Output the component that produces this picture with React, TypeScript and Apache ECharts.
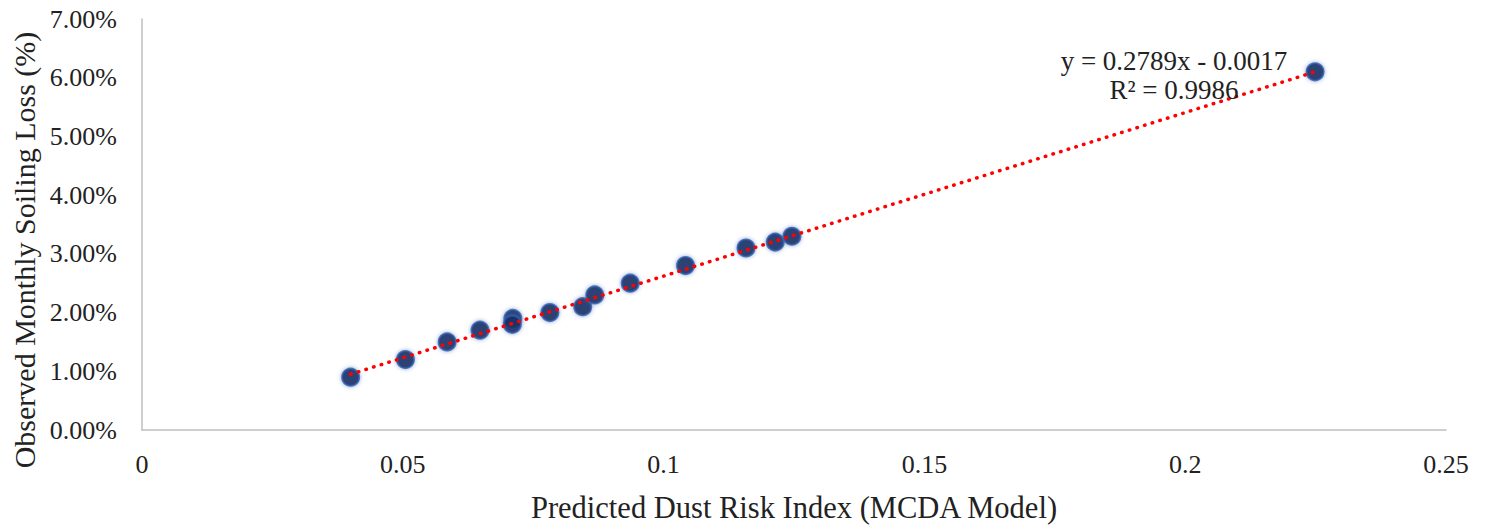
import React, { useEffect, useRef } from "react";
import * as echarts from "echarts";

const riskIndex = [0.04, 0.0505, 0.0585, 0.0648, 0.0711, 0.071, 0.0782, 0.0845, 0.0868, 0.0936, 0.1042, 0.1158, 0.1214, 0.1246, 0.2249];
const soilingLoss = [0.009, 0.012, 0.015, 0.017, 0.019, 0.018, 0.02, 0.021, 0.023, 0.025, 0.028, 0.031, 0.032, 0.033, 0.061];
const trendX = [0.04, 0.2249];
const trendY = [0.0095, 0.0610];
const equationLines = ["y = 0.2789x - 0.0017", "R² = 0.9986"];
const yTitle = "Observed Monthly Soiling Loss (%)";
const xTitle = "Predicted Dust Risk Index (MCDA Model)";

const FONT = "'Liberation Serif', 'Times New Roman', serif";

export default function App() {
  const ref = useRef<HTMLDivElement>(null);
  useEffect(() => {
    if (!ref.current) return;
    const chart = echarts.init(ref.current, undefined, { renderer: "svg" });
    chart.setOption({
      animation: false,
      backgroundColor: "#ffffff",
      grid: { left: 142, right: 39, top: 19, bottom: 93 },
      xAxis: {
        type: "value",
        min: 0,
        max: 0.25,
        interval: 0.05,
        name: xTitle,
        nameLocation: "middle",
        nameGap: 62,
        nameTextStyle: { fontFamily: FONT, fontSize: 30.5, color: "#222222" },
        axisLine: { show: true, lineStyle: { color: "#bfbfbf", width: 1.5 } },
        axisTick: { show: false },
        splitLine: { show: false },
        axisLabel: {
          fontFamily: FONT,
          fontSize: 26,
          color: "#222222",
          margin: 21,
          formatter: (v: number) => String(Number(v.toFixed(2))),
        },
      },
      yAxis: {
        type: "value",
        min: 0,
        max: 0.07,
        interval: 0.01,
        axisLine: { show: true, lineStyle: { color: "#bfbfbf", width: 1.5 } },
        axisTick: { show: false },
        splitLine: { show: false },
        axisLabel: {
          fontFamily: FONT,
          fontSize: 26,
          color: "#222222",
          margin: 25,
          formatter: (v: number) => (v * 100).toFixed(2) + "%",
        },
      },
      graphic: [
        {
          type: "text",
          x: 24,
          y: 250,
          rotation: Math.PI / 2,
          style: {
            text: yTitle,
            fontFamily: FONT,
            fontSize: 30,
            fill: "#222222",
            align: "center",
            verticalAlign: "middle",
          },
        },
        ...equationLines.map((t, i) => ({
          type: "text",
          x: 1174,
          y: 61 + i * 29,
          style: {
            text: t,
            fontFamily: FONT,
            fontSize: 27,
            fill: "#222222",
            align: "center",
            verticalAlign: "middle",
          },
          z: 10,
        })),
      ],
      series: [
        {
          type: "scatter",
          data: riskIndex.map((x, i) => [x, soilingLoss[i]]),
          symbolSize: 17,
          itemStyle: {
            color: "#071850",
            borderColor: "#2f5ca8",
            borderWidth: 2,
            shadowBlur: 4,
            shadowColor: "rgba(68,114,196,0.7)",
          },
          z: 2,
        },
        {
          type: "line",
          data: trendX.map((x, i) => [x, trendY[i]]),
          symbol: "none",
          lineStyle: { color: "#ff0000", width: 3.5, type: [0.5, 7.5], cap: "round" },
          z: 3,
        },
      ],
    });
    return () => chart.dispose();
  }, []);
  return <div ref={ref} style={{ position: "absolute", left: 0, top: 0, width: 1485, height: 528 }} />;
}
